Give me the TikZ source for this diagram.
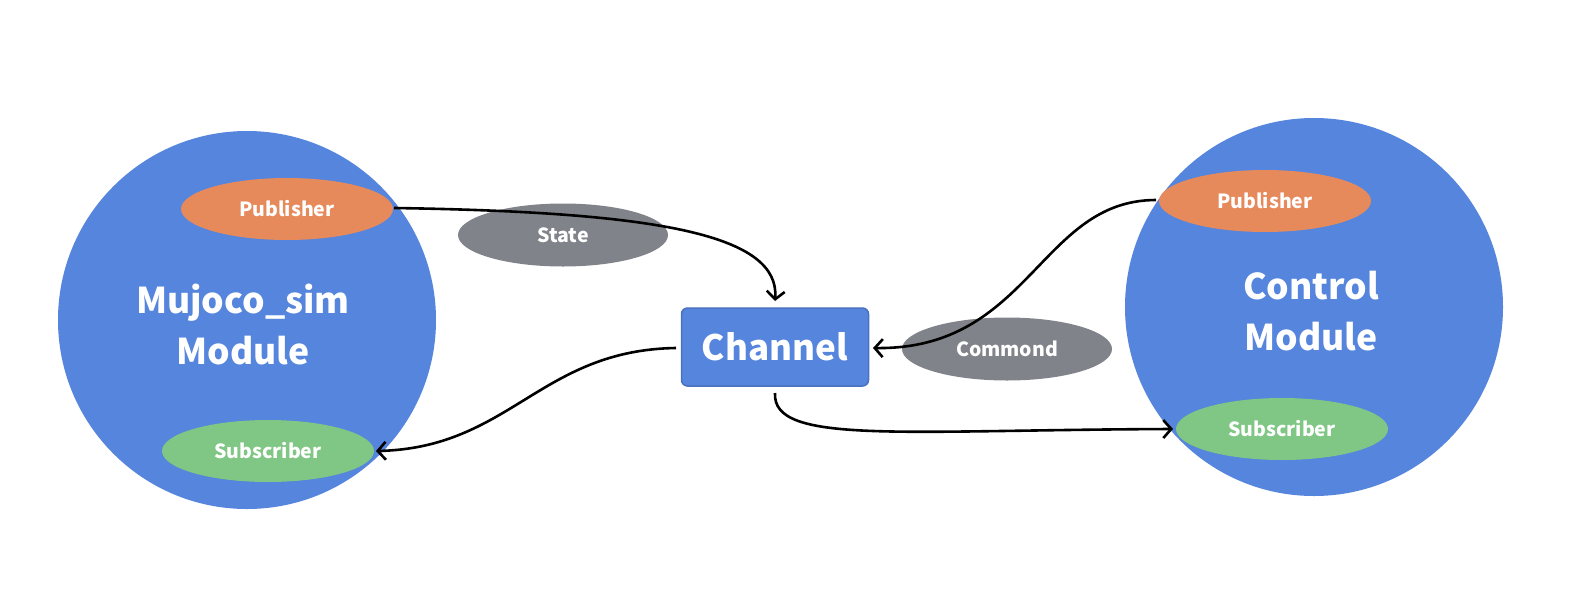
\documentclass[tikz,border=0pt]{standalone}
\usepackage{fontspec}
\setmainfont{Noto Sans CJK SC}
\usetikzlibrary{arrows.meta,shapes.geometric}
\definecolor{modblue}{HTML}{5585DC}
\definecolor{chborder}{HTML}{4A72BE}
\definecolor{puborange}{HTML}{E68A5C}
\definecolor{subgreen}{HTML}{80C684}
\definecolor{msggray}{HTML}{80838A}
\tikzset{
  module/.style={circle, fill=modblue, minimum size=378pt, inner sep=0pt},
  modtext/.style={text=white, font=\bfseries\fontsize{35.5}{51}\selectfont, align=center},
  role/.style={ellipse, minimum width=212pt, minimum height=62pt, inner sep=0pt, text=white, font=\bfseries\fontsize{19.5}{22}\selectfont},
  pub/.style={role, fill=puborange},
  sub/.style={role, fill=subgreen},
  msg/.style={role, fill=msggray, minimum width=210pt, minimum height=63pt},
  chanbox/.style={draw=chborder, line width=1.5pt, fill=modblue, rounded corners=6pt, minimum width=187pt, minimum height=78pt, text=white, font=\bfseries\fontsize{35}{40}\selectfont},
  link/.style={draw=black, line width=2.6pt, -{Straight Barb[length=8pt,width=18pt,line width=2.6pt]}}
}
\begin{document}
\begin{tikzpicture}[x=1pt,y=-1pt]
\useasboundingbox (0,0) rectangle (1574,598);
\fill[white] (0,0) rectangle (1574,598);
% modules
\node[module] (lmod) at (247,320) {};
\node[module] (rmod) at (1314,307) {};
\node[modtext] (ltxt) at (243,324) {Mujoco\_sim\\Module};
\node[modtext] (rtxt) at (1311,311) {Control\\Module};
\node[pub] (lpub) at (287,209) {Publisher};
\node[sub] (lsub) at (268,451) {Subscriber};
\node[pub] (rpub) at (1265,201) {Publisher};
\node[sub] (rsub) at (1282,429) {Subscriber};
% messages
\node[msg] (state) at (563,235) {State};
\node[msg] (cmd) at (1007,349) {Commond};
% channel
\node[chanbox] (chan) at (775,347) {Channel};
% connectors
\coordinate (p1) at (394,208);
\coordinate (c1) at (775,301);
\draw[link] (p1) .. controls (660,212) and (780,235) .. (c1);
\coordinate (c2) at (676,348);
\coordinate (s1) at (376,451);
\draw[link] (c2) .. controls (540,350) and (510,448) .. (s1);
\coordinate (p2) at (1156,200);
\coordinate (c3) at (873,348);
\draw[link] (p2) .. controls (1040,200) and (1030,350) .. (c3);
\coordinate (c4) at (775,393);
\coordinate (s2) at (1173,429);
\draw[link] (c4) .. controls (772,445) and (900,430) .. (s2);
\end{tikzpicture}
\end{document}
